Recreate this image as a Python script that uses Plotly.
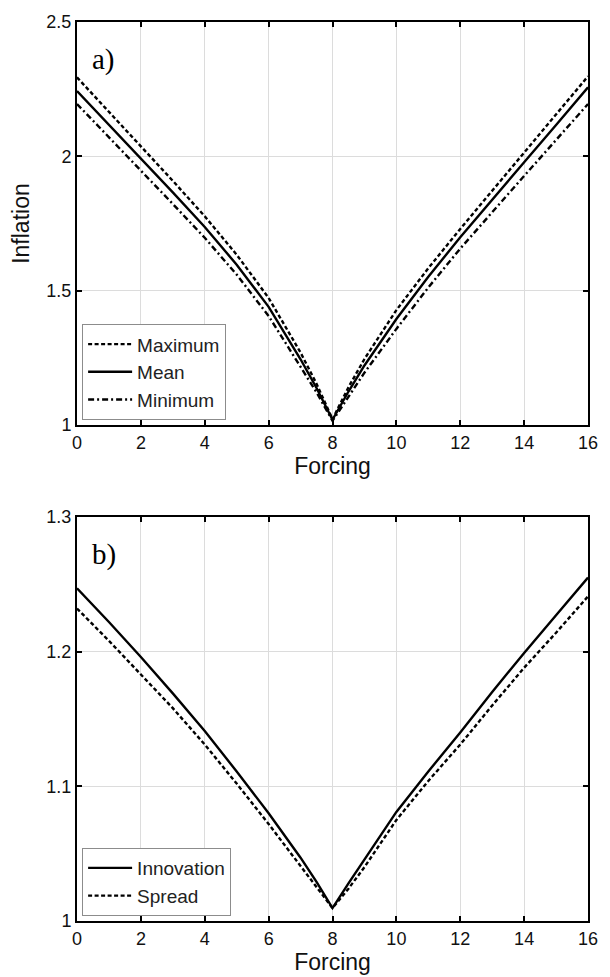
import plotly.graph_objects as go

# Forcing values (shared by both panels)
forcing = [0, 1, 2, 3, 4, 5, 6, 7, 7.5, 8, 8.5, 9, 10, 11, 12, 13, 14, 15, 16]

# Panel a) inflation statistics
infl_max = [2.294, 2.166, 2.038, 1.909, 1.777, 1.634, 1.473, 1.270, 1.154, 1.022,
            1.141, 1.246, 1.428, 1.584, 1.730, 1.872, 2.013, 2.155, 2.298]
infl_mean = [2.243, 2.118, 1.993, 1.866, 1.737, 1.597, 1.440, 1.245, 1.138, 1.020,
             1.125, 1.222, 1.395, 1.552, 1.699, 1.840, 1.978, 2.117, 2.257]
infl_min = [2.195, 2.072, 1.948, 1.823, 1.697, 1.560, 1.406, 1.219, 1.122, 1.016,
            1.108, 1.195, 1.358, 1.512, 1.657, 1.794, 1.927, 2.061, 2.195]

# Panel b) innovation- and spread-based inflation
innovation = [1.247, 1.222, 1.196, 1.169, 1.141, 1.111, 1.080, 1.047, 1.029, 1.0096,
              1.028, 1.046, 1.081, 1.111, 1.140, 1.170, 1.199, 1.227, 1.255]
spread = [1.232, 1.208, 1.183, 1.158, 1.131, 1.102, 1.072, 1.041, 1.025, 1.0096,
          1.024, 1.040, 1.075, 1.104, 1.131, 1.160, 1.188, 1.214, 1.241]

x_ticks = [0, 2, 4, 6, 8, 10, 12, 14, 16]
top_y_ticks = [1, 1.5, 2, 2.5]
bottom_y_ticks = [1, 1.1, 1.2, 1.3]

FONT = "Liberation Sans, Arial, Helvetica, sans-serif"
SERIF = "Liberation Serif, Times New Roman, serif"
LW = 2.4

fig = go.Figure()

fig.add_trace(go.Scatter(x=forcing, y=infl_max, name="Maximum", mode="lines",
                         line=dict(color="black", width=LW, dash="4px,2.5px"),
                         xaxis="x", yaxis="y", legend="legend"))
fig.add_trace(go.Scatter(x=forcing, y=infl_mean, name="Mean", mode="lines",
                         line=dict(color="black", width=LW),
                         xaxis="x", yaxis="y", legend="legend"))
fig.add_trace(go.Scatter(x=forcing, y=infl_min, name="Minimum", mode="lines",
                         line=dict(color="black", width=LW, dash="6px,3px,2px,3px"),
                         xaxis="x", yaxis="y", legend="legend"))

fig.add_trace(go.Scatter(x=forcing, y=innovation, name="Innovation", mode="lines",
                         line=dict(color="black", width=LW),
                         xaxis="x2", yaxis="y2", legend="legend2"))
fig.add_trace(go.Scatter(x=forcing, y=spread, name="Spread", mode="lines",
                         line=dict(color="black", width=LW, dash="4px,2.5px"),
                         xaxis="x2", yaxis="y2", legend="legend2"))

axis_common = dict(
    showline=True, linecolor="black", linewidth=2, mirror="ticks",
    ticks="inside", ticklen=5, tickwidth=1.5, tickcolor="black",
    showgrid=True, gridcolor="#dcdcdc", gridwidth=1,
    zeroline=False,
    tickfont=dict(family=FONT, size=18, color="#111"),
)

x_common = dict(axis_common, range=[0, 16], tickvals=x_ticks,
                title=dict(text="Forcing", font=dict(family=FONT, size=23, color="#111"),
                           standoff=0))

legend_common = dict(xanchor="left", yanchor="bottom",
                     bgcolor="white", bordercolor="#8c8c8c", borderwidth=1,
                     font=dict(family=FONT, size=19, color="#222"),
                     tracegroupgap=0, itemwidth=44)

fig.update_layout(
    width=610, height=977,
    margin=dict(l=77, r=13, t=12, b=55),
    paper_bgcolor="white", plot_bgcolor="white",
    showlegend=True,
    xaxis=dict(x_common, domain=[0, 1], anchor="y"),
    yaxis=dict(axis_common, domain=[0.5516, 1], anchor="x", range=[1, 2.5],
               tickvals=top_y_ticks,
               title=dict(text="Inflation", font=dict(family=FONT, size=23, color="#111"),
                          standoff=10)),
    xaxis2=dict(x_common, domain=[0, 1], anchor="y2"),
    yaxis2=dict(axis_common, domain=[0, 0.4495], anchor="x2", range=[1, 1.3],
                tickvals=bottom_y_ticks),
    legend=dict(legend_common, x=0.01, y=0.557),
    legend2=dict(legend_common, x=0.01, y=0.0055),
)

# Panel labels
fig.add_annotation(text="a)", xref="x", yref="y", x=0.42, y=2.36,
                   xanchor="left", yanchor="middle", showarrow=False,
                   font=dict(family=SERIF, size=29, color="black"))
fig.add_annotation(text="b)", xref="x2", yref="y2", x=0.42, y=1.272,
                   xanchor="left", yanchor="middle", showarrow=False,
                   font=dict(family=SERIF, size=29, color="black"))

fig.write_html("out.html")
